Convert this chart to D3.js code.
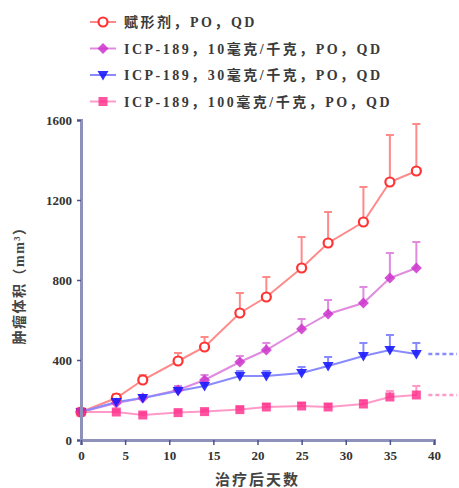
<!DOCTYPE html>
<html>
<head>
<meta charset="utf-8">
<script src="https://cdn.jsdelivr.net/npm/d3@7"></script>
<style>
  body { margin: 0; background: #fff; }
  svg text { font-family: "Liberation Serif", "Noto Sans CJK SC", serif; }
</style>
</head>
<body>
<div class="chart"></div>
<script>
// data
const days = [0, 4, 7, 11, 14, 18, 21, 25, 28, 32, 35, 38]
const seriesNames = [
    '赋形剂，PO，QD',
    'ICP-189，10毫克/千克，PO，QD',
    'ICP-189，30毫克/千克，PO，QD',
    'ICP-189，100毫克/千克，PO，QD'
]
const vehicle = [140, 210, 300, 395, 465, 635, 715, 860, 985, 1090, 1290, 1345]
const vehicleErr = [10, 20, 25, 40, 50, 100, 100, 155, 155, 175, 235, 235]
const dose10 = [140, 185, 210, 250, 300, 390, 450, 555, 630, 685, 810, 860]
const dose10Err = [10, 15, 15, 20, 25, 30, 35, 50, 70, 80, 125, 130]
const dose30 = [140, 190, 210, 245, 270, 320, 320, 335, 370, 420, 450, 430]
const dose30Err = [10, 15, 15, 20, 20, 25, 25, 30, 45, 65, 75, 55]
const dose100 = [140, 140, 125, 137, 142, 152, 165, 170, 165, 180, 215, 225]
const dose100Err = [5, 10, 10, 10, 10, 12, 15, 15, 15, 20, 30, 45]
const yTicks = [0, 400, 800, 1200, 1600]
const xTicks = [0, 5, 10, 15, 20, 25, 30, 35, 40]

const colors = ['#ff3333', '#cc33cc', '#1a1aff', '#ff2a8a']
const lineColors = ['#ff8a8a', '#e08ae0', '#8a8aff', '#ff9ac8']
const symbols = ['circle', 'diamond', 'tri', 'xsq']
const allValues = [vehicle, dose10, dose30, dose100]
const allErrs = [vehicleErr, dose10Err, dose30Err, dose100Err]

const width = 459
const height = 488
const margin = {top: 120, right: 25, bottom: 48, left: 81}

const svg = d3.select('.chart')
    .append('svg')
    .attr('width', width)
    .attr('height', height)

const x = d3.scaleLinear().domain([0, 40]).range([margin.left, width - margin.right])
const y = d3.scaleLinear().domain([0, 1600]).range([height - margin.bottom, margin.top])

// error bars (upper only) and lines
allValues.forEach((vals, i) => {
    let g = svg.append('g')
    days.forEach((d, j) => {
        let top = y(vals[j] + allErrs[i][j])
        g.append('line')
            .attr('x1', x(d)).attr('x2', x(d))
            .attr('y1', y(vals[j])).attr('y2', top)
            .attr('stroke', lineColors[i]).attr('stroke-width', 2)
        g.append('line')
            .attr('x1', x(d) - 4).attr('x2', x(d) + 4)
            .attr('y1', top).attr('y2', top)
            .attr('stroke', lineColors[i]).attr('stroke-width', 2)
    })
    g.append('path')
        .datum(vals)
        .attr('fill', 'none')
        .attr('stroke', lineColors[i])
        .attr('stroke-width', 2)
        .attr('d', d3.line().x((v, j) => x(days[j])).y(v => y(v)))
})

// dashed extensions on the right for the two top doses
;[2, 3].forEach(i => {
    let last = allValues[i][days.length - 1]
    svg.append('line')
        .attr('x1', x(38) + 12).attr('x2', width - 2)
        .attr('y1', y(last)).attr('y2', y(last))
        .attr('stroke', lineColors[i]).attr('stroke-width', 2.5)
        .attr('stroke-dasharray', '4,3')
})

function drawMarker(g, kind, cx, cy, color) {
    if (kind === 'circle') {
        g.append('circle').attr('cx', cx).attr('cy', cy).attr('r', 4.5)
            .attr('fill', 'white').attr('stroke', color).attr('stroke-width', 2.2)
    } else if (kind === 'diamond') {
        g.append('path')
            .attr('d', `M${cx},${cy-5.5}L${cx+5.5},${cy}L${cx},${cy+5.5}L${cx-5.5},${cy}Z`)
            .attr('fill', color).attr('opacity', 0.85)
    } else if (kind === 'tri') {
        g.append('path')
            .attr('d', `M${cx-5.5},${cy-4}L${cx+5.5},${cy-4}L${cx},${cy+5.5}Z`)
            .attr('fill', color).attr('opacity', 0.9)
    } else {
        g.append('rect').attr('x', cx - 4.5).attr('y', cy - 4.5).attr('width', 9).attr('height', 9)
            .attr('fill', color).attr('opacity', 0.8)
    }
}

allValues.forEach((vals, i) => {
    let g = svg.append('g')
    days.forEach((d, j) => drawMarker(g, symbols[i], x(d), y(vals[j]), colors[i]))
})

// axes
const axisColor = '#8e91b9'
let yAxis = svg.append('g')
    .attr('transform', `translate(${margin.left},0)`)
    .call(d3.axisLeft(y).tickValues(yTicks).tickFormat(d3.format('d')).tickSize(4).tickPadding(5))
let xAxis = svg.append('g')
    .attr('transform', `translate(0,${height - margin.bottom})`)
    .call(d3.axisBottom(x).tickValues(xTicks).tickSize(5).tickPadding(6))
;[yAxis, xAxis].forEach(a => {
    a.select('.domain').attr('stroke', axisColor).attr('stroke-width', 3)
    a.selectAll('.tick line').attr('stroke', '#4b5390').attr('stroke-width', 1.5)
    a.selectAll('.tick text').attr('fill', '#333').attr('font-size', 13).attr('font-weight', 'bold')
})

svg.append('text')
    .attr('transform', `translate(24,${y(790)}) rotate(-90)`)
    .attr('text-anchor', 'middle')
    .attr('font-size', 14)
    .attr('font-weight', 'bold')
    .attr('letter-spacing', 1.5)
    .attr('fill', '#444')
    .text('肿瘤体积（mm³）')

svg.append('text')
    .attr('x', x(20))
    .attr('y', 485)
    .attr('text-anchor', 'middle')
    .attr('font-size', 15)
    .attr('font-weight', 'bold')
    .attr('letter-spacing', 2)
    .attr('fill', '#444')
    .text('治疗后天数')

// legend
seriesNames.forEach((name, i) => {
    let ly = 22 + i * 26.5
    let g = svg.append('g')
    g.append('line').attr('x1', 90).attr('x2', 116).attr('y1', ly).attr('y2', ly)
        .attr('stroke', lineColors[i]).attr('stroke-width', 2)
    drawMarker(g, symbols[i], 103, ly, colors[i])
    g.append('text')
        .attr('x', 124).attr('y', ly + 5)
        .attr('font-size', 14)
        .attr('font-weight', 'bold')
        .attr('letter-spacing', 2.5)
        .attr('fill', '#3a3a3a')
        .text(name)
})
</script>
</body>
</html>
